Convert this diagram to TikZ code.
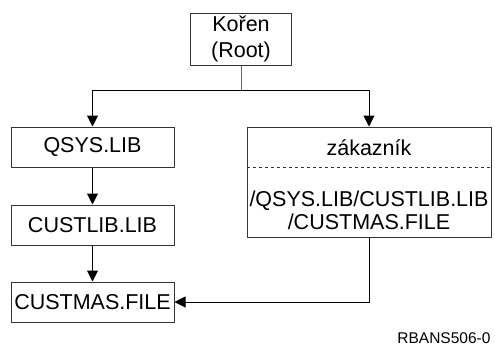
\documentclass[tikz,border=0pt]{standalone}
\usepackage{fontspec}
\setmainfont{Liberation Sans}
\usetikzlibrary{arrows.meta}
\begin{document}
\begin{tikzpicture}[x=1pt,y=-1pt,>={Triangle[width=11pt,length=11pt]}, font=\fontsize{21.5}{23}\selectfont, line join=round,
  box/.style={draw=black!80, line width=1pt, minimum height=40pt, inner sep=0pt},
  link/.style={->, line width=1pt}]
\useasboundingbox (0,0) rectangle (495,348);
\def\colx{92.5} \def\rx{369}
\node[box, minimum width=101pt, minimum height=52pt, align=center, font=\fontsize{21.5}{26}\selectfont] (root) at (241,39) {Kořen\\(Root)};
\node[box, minimum width=163pt] (qsys) at (\colx,147) {QSYS.LIB};
\node[box, minimum width=163pt] (custlib) at (\colx,225) {CUSTLIB.LIB};
\node[box, minimum width=163pt] (custmas) at (\colx,302) {CUSTMAS.FILE};
\node[box, minimum width=244pt, minimum height=110pt] (cust) at (\rx,182) {};
\draw[dashed, black!80, line width=0.8pt] ([yshift=-41pt]cust.north west) -- ([yshift=-41pt]cust.north east);
\node[anchor=base] (zname) at (\rx,155) {zákazník};
\node[anchor=base] (zpath) at (\rx,206) {/QSYS.LIB/CUSTLIB.LIB};
\node[anchor=base] (zfile) at (\rx,229) {/CUSTMAS.FILE};
\coordinate (fork) at (241,90);
\draw[line width=1pt, black!60] (root.south) -- (fork);
\draw[link] (fork) -| (qsys.north);
\draw[link] (fork) -| (cust.north);
\draw[link] (qsys) -- (custlib);
\draw[link] (custlib) -- (custmas);
\draw[link] (cust.south) |- (custmas.east);
\node[anchor=base east, font=\fontsize{15.5}{17}\selectfont] (figid) at (494,343) {RBANS506-0};
\end{tikzpicture}
\end{document}
